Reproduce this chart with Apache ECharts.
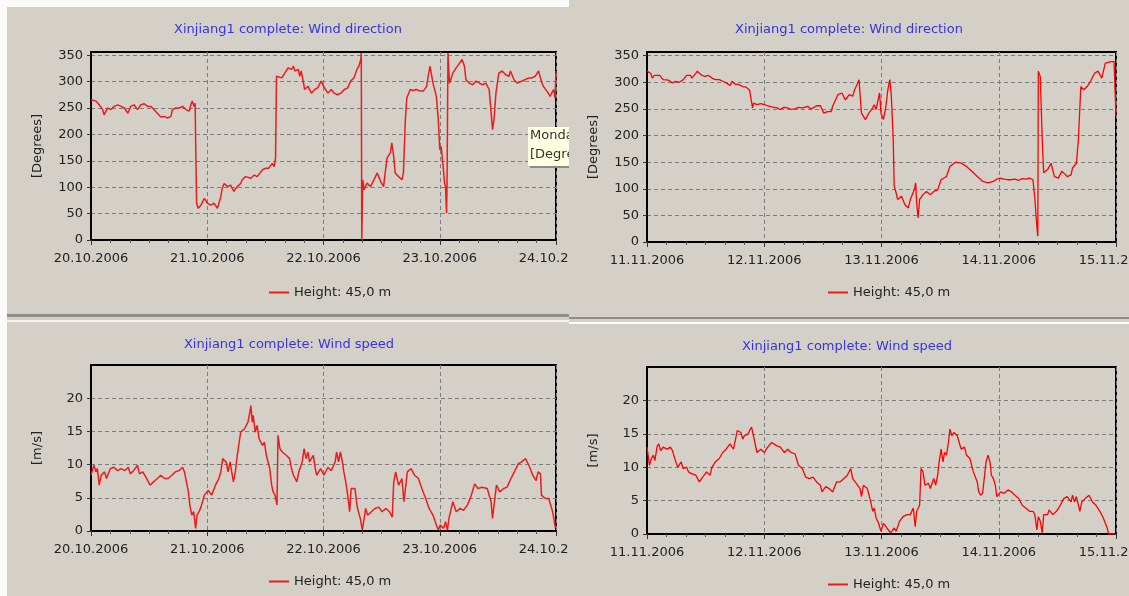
<!DOCTYPE html>
<html>
<head>
<meta charset="utf-8">
<script src="https://cdn.jsdelivr.net/npm/echarts@6/dist/echarts.min.js"></script>
<style>
  html, body { margin: 0; padding: 0; background: #d4d0c8; }
  #chart { width: 1129px; height: 596px; }
</style>
</head>
<body>
<div id="chart"></div>
<script>
// Day tick labels (one per 24 h) for the two measuring periods
const octDays = ['20.10.2006', '21.10.2006', '22.10.2006', '23.10.2006', '24.10.2006'];
const novDays = ['11.11.2006', '12.11.2006', '13.11.2006', '14.11.2006', '15.11.2006'];

const seriesName = 'Height: 45,0 m';
const dirTicks = [0, 50, 100, 150, 200, 250, 300, 350];
const speedTicks = [0, 5, 10, 15, 20];

// [hours since period start, wind direction in degrees]
const dirOct = [
  [0,266],[0.3,266],[1.0,263],[1.7,256],[2.4,247],[2.7,237],[3.4,250],[4.1,247],[4.8,253],[5.5,256],
  [6.2,253],[6.9,250],[7.6,240],[8.2,253],[8.9,256],[9.6,247],[10.3,256],[11,258],[11.7,253],[12.4,253],
  [13,247],[13.7,240],[14.4,233],[15.1,234],[15.8,231],[16.5,234],[16.8,247],[17.5,250],[18.2,250],[18.9,253],
  [19.6,247],[20.3,244],[20.6,256],[20.9,263],[21.3,253],[21.5,259],[21.6,190],[21.8,70],[22.1,60],[22.7,66],
  [23.4,79],[24,70],[24.7,66],[25.4,70],[26.1,60],[26.8,82],[27.1,98],[27.5,107],[28.2,101],[28.8,104],
  [29.5,92],[30.2,101],[30.9,107],[31.2,114],[31.9,120],[33,117],[33.7,123],[34.3,120],[35.4,133],[36.1,136],
  [36.7,136],[37.4,145],[37.8,139],[38.1,155],[38.3,310],[38.7,313],[39.4,307],[40,316],[40.7,326],[41.4,323],
  [41.8,329],[42.1,320],[42.8,323],[43.1,310],[43.4,320],[43.8,301],[44.1,285],[44.8,291],[45.5,278],[46.2,285],
  [46.8,288],[47.5,301],[48.2,288],[48.9,278],[49.6,285],[50.2,278],[50.9,275],[51.6,278],[52.3,285],[53,288],
  [53.6,301],[54.3,307],[54.9,323],[55.3,329],[55.7,342],[55.8,354],[55.9,0],[56.0,0],[56.1,114],[56.4,95],
  [57,108],[57.7,101],[58.4,114],[59.1,127],[59.8,111],[60.4,101],[61.1,155],[61.8,165],[62.1,184],[62.5,158],
  [62.8,127],[63.5,120],[64.2,114],[64.5,127],[64.9,228],[65.2,269],[65.9,285],[66.5,283],[67.2,285],[67.9,282],
  [68.6,282],[69.3,291],[69.6,310],[70,329],[70.3,326],[70.6,297],[71.3,272],[71.7,228],[72,171],[72.3,177],
  [72.7,139],[73,108],[73.2,101],[73.4,51],[73.5,101],[73.7,354],[74,297],[74.4,307],[74.7,316],[75.4,326],
  [76.1,335],[76.6,342],[77.1,329],[77.4,304],[78.1,297],[78.8,294],[79.5,301],[80.2,297],[80.8,294],[81.5,297],
  [82.2,285],[82.5,253],[82.9,209],[83.2,228],[83.6,278],[84.2,316],[84.9,320],[85.6,313],[86.3,310],[86.6,320],
  [87.3,304],[88,297],[89,301],[89.7,304],[90.4,307],[91,307],[91.7,310],[92.4,320],[92.7,323],[93.1,297],
  [93.4,291],[93.8,294],[94.4,278],[94.8,272],[95.1,278],[95.5,285],[95.8,268],[96,320]
];

const dirNov = [
  [0,321],[0.15,321],[0.74,317],[1.1,308],[1.5,313],[1.85,313],[2.6,313],[3.3,305],[3.7,302],[4.4,304],
  [5.2,299],[5.9,302],[6.6,300],[7.4,305],[8.1,313],[8.5,310],[8.9,313],[9.2,308],[10,317],[10.3,321],
  [11.1,314],[11.8,311],[12.6,313],[13.3,308],[14,305],[14.8,305],[15.5,302],[16.2,299],[17,294],[17.4,302],
  [18.1,296],[18.8,296],[19.6,292],[20.3,291],[21,285],[21.4,283],[21.6,252],[21.8,261],[22.5,258],[23.3,260],
  [24,258],[24.7,256],[25.5,254],[26.6,252],[27.3,249],[28,253],[28.8,252],[29.5,249],[30.3,250],[31,253],
  [31.8,252],[32.9,255],[33.5,250],[34,252],[34.7,256],[35.5,256],[36.2,242],[36.9,245],[37.7,245],[38,255],
  [38.4,252],[39.1,277],[39.9,280],[40.6,267],[41.4,277],[42.1,274],[42.5,286],[43,296],[43.4,305],[43.7,302],
  [43.9,242],[44.7,230],[45.4,242],[46.2,252],[46.5,258],[46.9,249],[47.3,267],[47.6,280],[47.9,242],[48.4,230],
  [48.9,255],[49.3,286],[49.7,305],[50,277],[50.4,192],[50.6,105],[51,92],[51.3,80],[52.1,86],[52.8,70],
  [53.5,64],[53.9,80],[54.7,98],[55,111],[55.2,73],[55.5,45],[55.8,80],[56.5,89],[57.2,95],[58,89],
  [58.7,95],[59.5,98],[60.2,117],[61.3,123],[62,142],[63.1,150],[64.3,148],[65.4,142],[66.5,133],[67.6,123],
  [68.7,114],[69.8,111],[70.9,114],[71.6,118],[72.3,120],[73.1,118],[73.8,117],[74.6,117],[75.3,118],[76.1,116],
  [76.8,119],[77.5,118],[78.3,120],[79,117],[79.4,80],[79.8,29],[80,11],[80.1,321],[80.5,311],[80.9,192],
  [81.2,130],[82,136],[82.7,148],[83.4,123],[84.2,120],[84.9,133],[85.5,128],[86,123],[86.8,126],[87.1,139],
  [87.9,148],[88.3,192],[88.8,292],[89.4,286],[90.1,292],[90.8,302],[91.6,317],[92.3,321],[93.1,308],[93.8,336],
  [94.2,339],[95,339],[95.6,339],[95.95,339],[96,236]
];

// [hours since period start, wind speed in m/s]
const speedOct = [
  [0,8.4],[0.2,8.9],[0.6,9.9],[1.0,8.9],[1.3,9.4],[1.7,6.9],[2.1,8.4],[2.8,8.9],[3.2,7.9],[4,9.4],
  [4.7,9.6],[5.5,9.1],[6.2,9.4],[7,9.1],[7.7,9.6],[8.1,8.6],[8.8,9.1],[9.6,9.9],[10,8.6],[10.7,8.9],
  [11.5,7.9],[12.2,6.9],[12.9,7.4],[13.7,7.9],[14.4,8.4],[15.2,7.9],[15.9,7.9],[16.7,8.4],[17.4,8.9],[18.2,9.1],
  [18.9,9.6],[19.3,8.9],[19.7,7.4],[20.1,5.9],[20.4,3.9],[20.8,2.4],[21.2,2.9],[21.6,0.4],[21.9,2.4],[22.3,2.9],
  [22.7,3.6],[23.1,4.6],[23.4,5.4],[24.2,6.1],[24.9,5.4],[25.7,6.9],[26.4,7.9],[26.8,8.9],[27.2,10.9],[27.9,10.4],
  [28.3,8.9],[28.7,10.4],[29.4,7.4],[29.8,8.9],[30.2,11.4],[30.5,12.9],[30.9,14.9],[31.7,15.4],[32.4,16.4],[32.8,17.9],
  [33,18.9],[33.3,16.4],[33.5,17.4],[33.9,14.9],[34.3,15.9],[34.7,13.9],[35.4,12.9],[35.8,13.4],[36.2,11.4],[36.9,9.4],
  [37.3,6.9],[37.6,5.9],[38,5.4],[38.4,3.9],[38.6,14.4],[39,12.4],[39.5,11.9],[40.3,11.4],[41,10.9],[41.4,9.4],
  [41.8,8.4],[42.5,7.4],[42.9,8.9],[43.6,10.4],[44,12.4],[44.4,10.9],[44.8,11.9],[45.1,10.4],[45.9,11.4],[46.3,9.4],
  [46.6,8.4],[47.4,9.4],[48.1,8.4],[48.9,9.6],[49.6,9.1],[50.4,10.4],[50.7,11.9],[51.1,10.4],[51.5,11.9],[51.9,10.4],
  [52.2,8.9],[52.6,7.4],[53,5.4],[53.4,2.9],[53.7,6.4],[54.5,6.4],[54.9,3.9],[55.2,2.9],[55.6,1.9],[56,0.15],
  [56.4,1.9],[56.7,3.4],[57.1,2.4],[57.9,2.9],[58.6,3.4],[59.4,3.6],[60.1,2.9],[60.9,3.4],[61.6,2.9],[62.2,2.1],
  [62.5,7.4],[62.9,8.9],[63.5,6.9],[64.2,7.9],[64.6,4.4],[65,6.9],[65.3,8.9],[66.1,9.4],[66.8,8.4],[67.6,7.9],
  [68.3,6.4],[69.1,4.9],[69.8,3.4],[70.6,2.4],[71.3,0.9],[71.7,0.15],[72.1,0.9],[72.8,0.4],[73.2,1.4],[73.6,0.15],
  [73.9,1.9],[74.7,4.4],[75.4,2.9],[76.2,3.4],[76.9,3.1],[77.7,3.9],[78.4,5.1],[79.2,7.1],[79.9,6.4],[80.7,6.6],
  [81.8,6.4],[82.6,4.4],[82.9,1.9],[83.3,4.4],[83.7,6.9],[84.4,5.9],[85.2,6.4],[85.9,6.6],[86.7,7.9],[87.4,8.9],
  [88.2,10.1],[88.9,10.4],[89.7,10.9],[90.4,9.9],[91.2,8.4],[91.9,7.6],[92.3,8.9],[92.8,8.6],[93,5.4],[93.8,4.9],
  [94.5,4.9],[95.3,2.9],[95.9,0.4]
];

const speedNov = [
  [0,13],[0.15,13],[0.5,10.3],[0.9,11.3],[1.3,11.8],[1.6,11],[2.1,13.2],[2.4,13.5],[2.8,12.5],[3.3,13],
  [4.1,12.7],[4.8,13],[5.2,12.5],[5.9,10.8],[6.3,10],[7,10.8],[7.4,9.8],[8.1,10],[8.5,9.3],[9.2,9],
  [10,8.8],[10.7,7.8],[11.4,8.5],[12.2,9.3],[12.9,8.8],[13.3,10],[14,10.8],[14.8,11.3],[15.5,12.2],[16.2,12.7],
  [17,13.5],[17.4,13],[17.7,12.7],[18.5,15.5],[19.2,15.2],[19.6,14.2],[19.9,14.7],[20.7,15],[21,15.5],[21.4,16],
  [21.8,14.7],[22.5,12.2],[23.3,12.7],[24,12.2],[24.7,13],[25.5,13.7],[26.6,13.2],[27.3,13],[28.1,12.2],[28.8,12.7],
  [29.5,12.2],[30.3,12],[31,10.3],[31.8,9.8],[32.5,8.5],[33.2,8.3],[34,8.5],[34.7,7.8],[35.5,7.3],[35.8,6.3],
  [36.6,7.1],[37.3,6.8],[38,6.3],[38.8,7.8],[39.5,7.8],[40.3,8.3],[41,8.8],[41.7,9.8],[42.1,8.3],[42.8,7.6],
  [43.6,6.8],[43.9,5.6],[44.3,7.3],[45.1,6.8],[45.8,4.8],[46.2,3.4],[46.5,3.9],[46.9,2.4],[47.4,1.6],[47.9,0.4],
  [48.4,1.6],[49.1,0.9],[49.9,0.15],[50.6,0.9],[51,0.4],[51.7,1.9],[52.4,2.6],[53.2,2.9],[53.9,2.9],[54.5,3.9],
  [54.9,1.1],[55.2,3.4],[55.8,4.3],[56.1,9.8],[56.5,9.3],[56.9,7.3],[57.6,7.6],[58,6.8],[58.7,8.3],[59.1,7.3],
  [59.5,8.8],[59.8,10.8],[60.2,12.7],[60.6,10.8],[60.9,12.2],[61.3,11.8],[61.7,13.7],[62,15.7],[62.4,14.7],[62.8,15.2],
  [63.5,14.7],[63.9,13.7],[64.3,12.7],[65,13],[65.4,11.8],[66.1,11.3],[66.8,9.3],[67.6,7.8],[67.9,6.3],[68.3,5.8],
  [68.7,6.1],[69.1,8.8],[69.4,10.8],[69.8,11.8],[70.2,10.8],[70.5,8.8],[70.9,8.3],[71.3,7.3],[71.6,5.6],[72.4,6.3],
  [73.1,6.1],[73.9,6.6],[74.6,6.3],[75.3,5.8],[76.1,5.3],[76.8,4.3],[77.5,3.9],[78.3,3.4],[79,3.4],[79.4,2.9],
  [79.8,0.6],[80.1,2.6],[80.5,1.9],[80.9,0.15],[81.2,2.9],[82,2.9],[82.3,3.6],[83.1,2.9],[83.8,3.4],[84.6,4.3],
  [85.3,5.3],[86,5.6],[86.8,4.8],[87.1,5.8],[87.5,4.8],[87.9,5.6],[88.6,3.4],[89,4.8],[89.7,5.3],[90.5,5.8],
  [91.2,4.8],[91.9,4.3],[92.7,3.4],[93.4,2.4],[94.2,0.9],[94.5,0],[96,0]
];

const FONT = 'DejaVu Sans';
const TEXT = '#222222';
const PANEL_BG = '#d4d0c8';

// One framed plot with title, axes and legend
function buildPanel(i, p) {
  const gridLine = { color: '#7c7c7c', width: 1, type: [4, 3] };
  return {
    grid: {
      left: p.box[0], top: p.box[1], width: p.box[2], height: p.box[3],
      outerBoundsMode: 'none', containLabel: false,
      show: true, borderColor: '#000', borderWidth: 2, backgroundColor: 'transparent', z: p.z
    },
    xAxis: {
      gridIndex: i, type: 'value', min: 0, max: 96, interval: 24, z: p.z,
      axisLine: { show: true, onZero: false, lineStyle: { color: '#000', width: 2 } },
      axisTick: { show: true, length: 5, lineStyle: { color: '#333' } },
      minorTick: { show: true, splitNumber: 6, length: 3, lineStyle: { color: '#555' } },
      axisLabel: {
        formatter: v => p.days[Math.round(v / 24)],
        color: TEXT, fontSize: 13, fontFamily: FONT, margin: 12
      },
      splitLine: { show: true, lineStyle: gridLine }
    },
    yAxis: {
      gridIndex: i, type: 'value', min: 0, max: p.yMax, interval: p.yStep, z: p.z,
      name: p.yName, nameLocation: 'middle', nameGap: 47,
      nameTextStyle: { color: TEXT, fontSize: 13, fontFamily: FONT },
      axisLine: { show: true, lineStyle: { color: '#000', width: 2 } },
      axisTick: { show: true, length: 4, lineStyle: { color: '#333' }, customValues: p.yTicks },
      axisLabel: {
        customValues: p.yTicks,
        color: TEXT, fontSize: 13, fontFamily: FONT, margin: 8
      },
      splitLine: { show: true, lineStyle: gridLine }
    },
    series: {
      type: 'line', name: seriesName, xAxisIndex: i, yAxisIndex: i,
      data: p.data, showSymbol: false, symbol: 'none', z: p.z + 1,
      lineStyle: { color: p.color, width: p.lineWidth }, itemStyle: { color: p.color }
    },
    title: {
      text: p.title, left: p.titlePos[0], top: p.titlePos[1], textAlign: 'center', padding: 0, z: p.z + 1,
      textStyle: { color: '#3434e4', fontSize: 13, fontWeight: 'normal', fontFamily: FONT }
    },
    legend: {
      data: [seriesName], left: p.legendPos[0], top: p.legendPos[1], padding: 0,
      icon: 'rect', itemWidth: 20, itemHeight: 2, selectedMode: false, z: p.z + 1,
      textStyle: { color: TEXT, fontSize: 13, fontFamily: FONT }
    }
  };
}

const panels = [
  buildPanel(0, { box: [91, 52, 465, 188], yMax: 356, yStep: 50, yTicks: dirTicks, yName: '[Degrees]',
    days: octDays, data: dirOct, color: '#ec1c1c', lineWidth: 1.5, z: 0,
    title: 'Xinjiang1 complete: Wind direction', titlePos: [288, 23], legendPos: [269, 286] }),
  buildPanel(1, { box: [647, 52, 469, 190], yMax: 357, yStep: 50, yTicks: dirTicks, yName: '[Degrees]',
    days: novDays, data: dirNov, color: '#ff0000', lineWidth: 1.3, z: 5,
    title: 'Xinjiang1 complete: Wind direction', titlePos: [849, 23], legendPos: [828, 286] }),
  buildPanel(2, { box: [91, 365, 465, 166], yMax: 25, yStep: 5, yTicks: speedTicks, yName: '[m/s]',
    days: octDays, data: speedOct, color: '#ec1c1c', lineWidth: 1.5, z: 0,
    title: 'Xinjiang1 complete: Wind speed', titlePos: [289, 338], legendPos: [269, 575] }),
  buildPanel(3, { box: [647, 367, 469, 167], yMax: 25, yStep: 5, yTicks: speedTicks, yName: '[m/s]',
    days: novDays, data: speedNov, color: '#ff0000', lineWidth: 1.3, z: 5,
    title: 'Xinjiang1 complete: Wind speed', titlePos: [847, 340], legendPos: [828, 578] })
];

const chart = echarts.init(document.getElementById('chart'), null, { renderer: 'canvas' });
chart.setOption({
  backgroundColor: PANEL_BG,
  animation: false,
  grid: panels.map(p => p.grid),
  xAxis: panels.map(p => p.xAxis),
  yAxis: panels.map(p => p.yAxis),
  series: panels.map(p => p.series),
  title: panels.map(p => p.title),
  legend: panels.map(p => p.legend),
  graphic: {
    elements: [
      // window edges
      { type: 'rect', shape: { x: 0, y: 0, width: 569, height: 7 }, style: { fill: '#fbfbfa' }, z: 1, silent: true },
      { type: 'rect', shape: { x: 0, y: 0, width: 7, height: 596 }, style: { fill: '#fbfbfa' }, z: 1, silent: true },
      // hover box left on the first plot
      { type: 'rect', shape: { x: 528, y: 127, width: 60, height: 39 }, style: { fill: '#ffffe1' }, z: 3, silent: true },
      { type: 'rect', shape: { x: 530, y: 166, width: 58, height: 2 }, style: { fill: '#8a8a86' }, z: 3, silent: true },
      { type: 'text', x: 530, y: 129, style: { text: 'Monday', fill: '#333', font: '13px "DejaVu Sans"' }, z: 3, silent: true },
      { type: 'text', x: 530, y: 148, style: { text: '[Degrees]', fill: '#333', font: '13px "DejaVu Sans"' }, z: 3, silent: true },
      // right column panel background
      { type: 'rect', shape: { x: 569, y: 0, width: 560, height: 596 }, style: { fill: PANEL_BG }, z: 4, silent: true },
      // separators between upper and lower panels
      { type: 'rect', shape: { x: 7, y: 314, width: 562, height: 3 }, style: { fill: '#8e8d89' }, z: 8, silent: true },
      { type: 'rect', shape: { x: 7, y: 320, width: 562, height: 2 }, style: { fill: '#f3f2ee' }, z: 8, silent: true },
      { type: 'rect', shape: { x: 569, y: 317, width: 560, height: 2 }, style: { fill: '#8e8d89' }, z: 8, silent: true },
      { type: 'rect', shape: { x: 569, y: 322, width: 560, height: 2 }, style: { fill: '#ffffff' }, z: 8, silent: true }
    ]
  }
});
</script>
</body>
</html>
